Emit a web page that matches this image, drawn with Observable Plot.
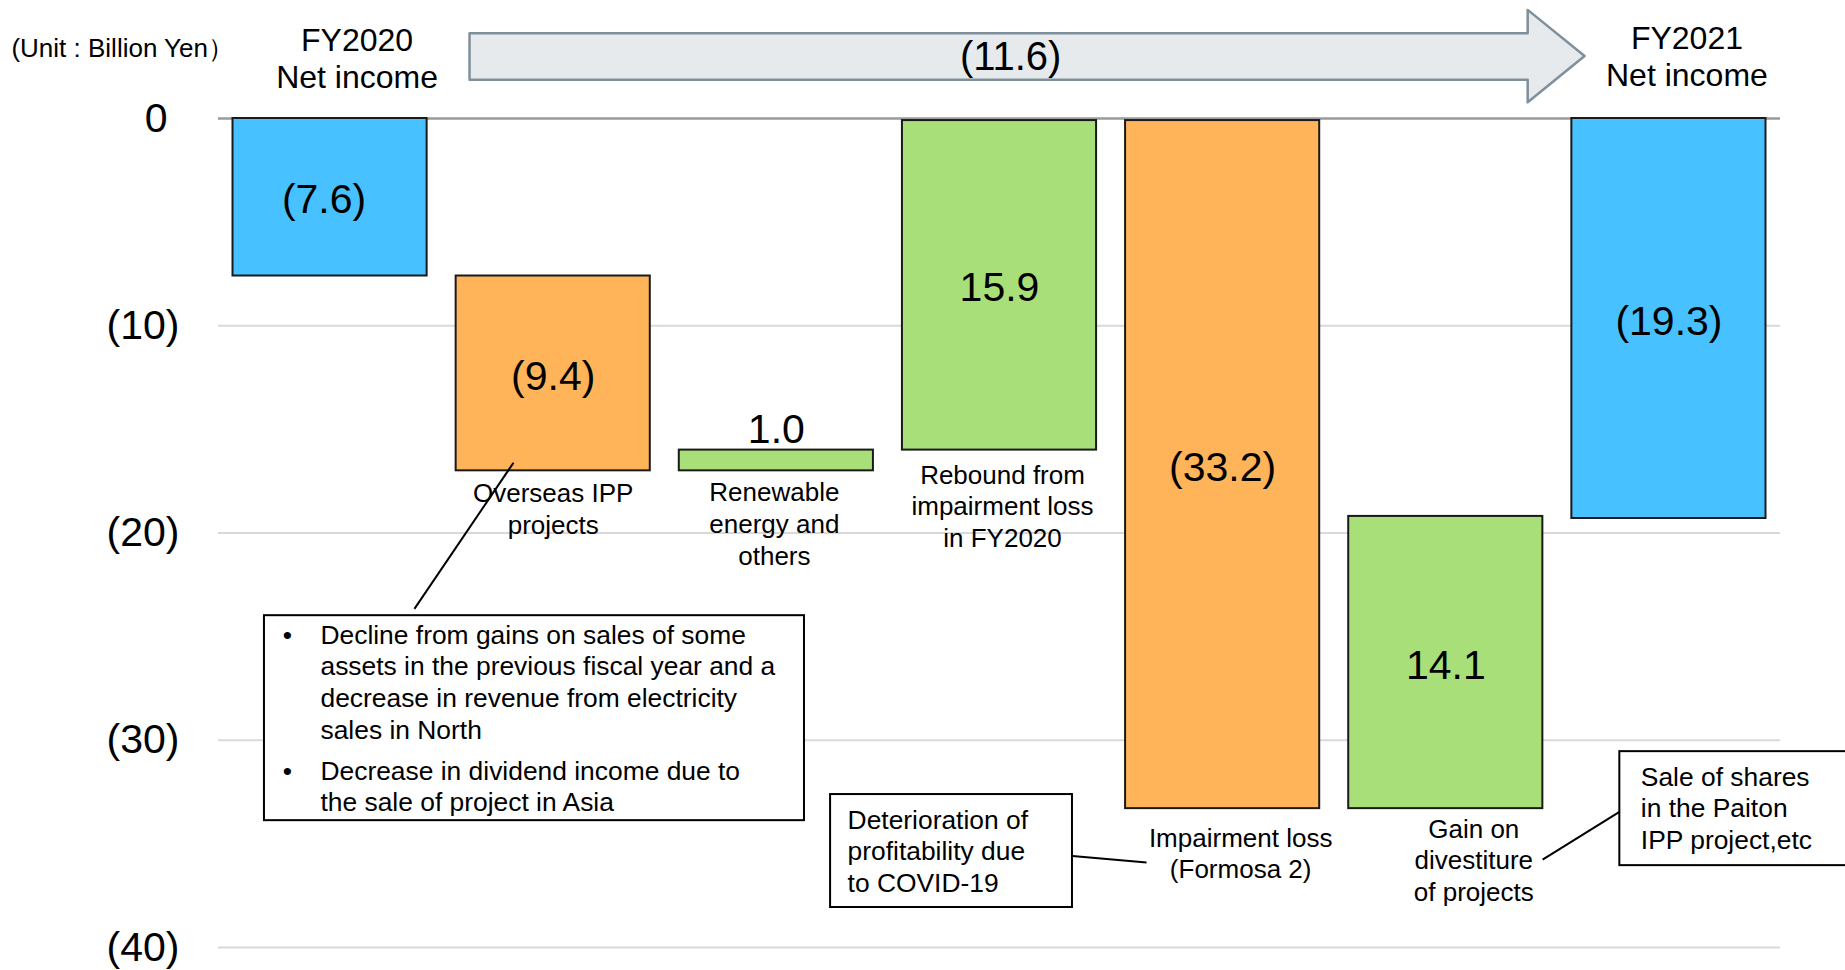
<!DOCTYPE html>
<html><head><meta charset="utf-8">
<script src="https://cdn.jsdelivr.net/npm/d3@7"></script>
<script src="https://cdn.jsdelivr.net/npm/@observablehq/plot@0.6"></script>
<style>html,body{margin:0;padding:0;background:#fff;overflow:hidden;} #chart svg{display:block}</style>
</head><body><div id="chart"></div>
<script>
// ---------- data ----------
const categories = [
  "FY2020\nNet income",
  "Overseas IPP\nprojects",
  "Renewable\nenergy and\nothers",
  "Rebound from\nimpairment loss\nin FY2020",
  "Impairment loss\n(Formosa 2)",
  "Gain on\ndivestiture\nof projects",
  "FY2021\nNet income"
];
const values = [-7.6, -9.4, 1.0, 15.9, -33.2, 14.1, -19.3];
const kinds = ["total", "change", "change", "change", "change", "change", "total"];
const netChange = -11.6;
const unitLabel = "(Unit : Billion Yen）";
const yTicks = [0, -10, -20, -30, -40];
const note1Bullets = [
  "Decline from gains on sales of some\nassets in the previous fiscal year and a\ndecrease in revenue from electricity\nsales in North",
  "Decrease in dividend income due to\nthe sale of project in Asia"
];
const note2Text = "Deterioration of\nprofitability due\nto COVID-19";
const note3Text = "Sale of shares\nin the Paiton\nIPP project,etc";

// ---------- layout (data units / px offsets) ----------
const half = 0.435;
const labelDx = [27, 0, -2, 3, 18, 28, 18];
const labelDy = [-31, 9, 8, 11, 15.5, 6.5, -33];
const valueDx = [-6, 0, 0, 0, 0, 0, 0];
const box1 = {x1: -0.294, x2: 2.126, y1: -23.99, y2: -33.88};
const box2 = {x1: 2.243, x2: 3.327, y1: -32.62, y2: -38.07};
const box3 = {x1: 5.780, x2: 6.83, y1: -30.55, y2: -36.05};
const leaders = [
  {x1: 0.822, y1: -16.61, x2: 0.378, y2: -23.66},
  {x1: 3.327, y1: -35.59, x2: 3.659, y2: -35.90},
  {x1: 5.434, y1: -35.76, x2: 5.780, y2: -33.44}
];
const arrowBody = {x1: 0.625, x2: 5.367, yTop: 4.11, yBot: 1.87, headTop: 5.24, headBot: 0.78, tipX: 5.622, tipY: 3.02};

// ---------- derived ----------
let run = 0;
const bars = categories.map((c, i) => {
  let y1, y2;
  if (kinds[i] === "total") { y1 = 0; y2 = values[i]; run = values[i]; }
  else { y1 = run; y2 = run + values[i]; run = y2; }
  return {i, c, v: values[i], kind: kinds[i], y1, y2, top: Math.max(y1, y2), bottom: Math.min(y1, y2)};
});
const colorOf = d => d.kind === "total" ? "#47C1FF" : d.v < 0 ? "#FFB45A" : "#A9DF78";
const fmt = v => v < 0 ? `(${(-v).toFixed(1)})` : v.toFixed(1);
const a = arrowBody;
const arrowPts = [
  [a.x1, a.yTop], [a.x2, a.yTop], [a.x2, a.headTop], [a.tipX, a.tipY],
  [a.x2, a.headBot], [a.x2, a.yBot], [a.x1, a.yBot]
];

const labelMarks = bars.map((b, k) => b.kind === "total"
  ? Plot.text([b], {x: "i", y: () => 0, text: "c", dx: labelDx[k], dy: labelDy[k], fontSize: 32, lineHeight: 1.15, lineAnchor: "bottom", fill: "#000"})
  : Plot.text([b], {x: "i", y: "bottom", text: "c", dx: labelDx[k], dy: labelDy[k], fontSize: 26, lineHeight: 1.22, lineAnchor: "top", fill: "#000"})
);
const valueMarks = bars.map((b, k) => Math.abs(b.v) >= 3
  ? Plot.text([b], {x: "i", y: d => (d.y1 + d.y2) / 2, text: d => fmt(d.v), fontSize: 41, dx: valueDx[k], dy: 3, fill: "#000"})
  : Plot.text([b], {x: "i", y: "top", text: d => fmt(d.v), fontSize: 41, dx: valueDx[k], dy: -20, fill: "#000"})
);

const textOpts = {fontSize: 26.4, lineHeight: 1.2, lineAnchor: "top", textAnchor: "start", fill: "#000"};

const chart = Plot.plot({
  width: 1845, height: 970,
  marginLeft: 218, marginRight: 65, marginTop: 118, marginBottom: 23,
  x: {domain: [-0.5, 6.5], axis: null},
  y: {domain: [-40, 0]},
  style: {fontFamily: "'Liberation Sans', Arial, sans-serif", background: "#fff", color: "#000", overflow: "hidden"},
  marks: [
    Plot.ruleY(yTicks.filter(t => t !== 0), {stroke: "#d9d9d9", strokeWidth: 2}),
    Plot.axisY(yTicks.filter(t => t !== 0), {tickSize: 0, tickPadding: 39, fontSize: 41, label: null, tickFormat: d => `(${-d})`}),
    Plot.axisY([0], {tickSize: 0, tickPadding: 51, fontSize: 41, label: null, tickFormat: () => "0"}),
    Plot.ruleY([0], {stroke: "#9a9a9a", strokeWidth: 2.5}),
    Plot.rect(bars, {x1: d => d.i - half, x2: d => d.i + half, y1: "y1", y2: "y2", fill: colorOf, stroke: "#1a1a1a", strokeWidth: 2}),
    ...valueMarks,
    ...labelMarks,
    // net change arrow
    Plot.line(arrowPts, {x: d => d[0], y: d => d[1], curve: "linear-closed", fill: "#E6EAED", stroke: "#7F8F9B", strokeWidth: 2.5}),
    Plot.text([netChange], {x: () => 3.05, y: () => 2.98, text: d => fmt(d), fontSize: 40, fill: "#000"}),
    Plot.text([unitLabel], {x: () => -1.428, y: () => 3.39, text: d => d, fontSize: 26, textAnchor: "start", fill: "#000"}),
    // annotation boxes
    Plot.rect([box1, box2, box3], {x1: "x1", x2: "x2", y1: "y1", y2: "y2", fill: "#fff", stroke: "#000", strokeWidth: 2}),
    Plot.link(leaders, {x1: "x1", y1: "y1", x2: "x2", y2: "y2", stroke: "#000", strokeWidth: 2}),
    Plot.text([note1Bullets[0]], {...textOpts, x: () => box1.x1, y: () => box1.y1, text: d => d, dx: 56, dy: 5.5}),
    Plot.text([note1Bullets[1]], {...textOpts, x: () => box1.x1, y: () => box1.y1, text: d => d, dx: 56, dy: 141.5}),
    Plot.text(["•"], {...textOpts, textAnchor: "middle", x: () => box1.x1, y: () => box1.y1, text: d => d, dx: 23, dy: 5.5}),
    Plot.text(["•"], {...textOpts, textAnchor: "middle", x: () => box1.x1, y: () => box1.y1, text: d => d, dx: 23, dy: 141.5}),
    Plot.text([note2Text], {...textOpts, x: () => box2.x1, y: () => box2.y1, text: d => d, dx: 17, dy: 11.5}),
    Plot.text([note3Text], {...textOpts, x: () => box3.x1, y: () => box3.y1, text: d => d, dx: 21, dy: 11.5})
  ]
});
document.getElementById("chart").appendChild(chart);
</script>
</body></html>
